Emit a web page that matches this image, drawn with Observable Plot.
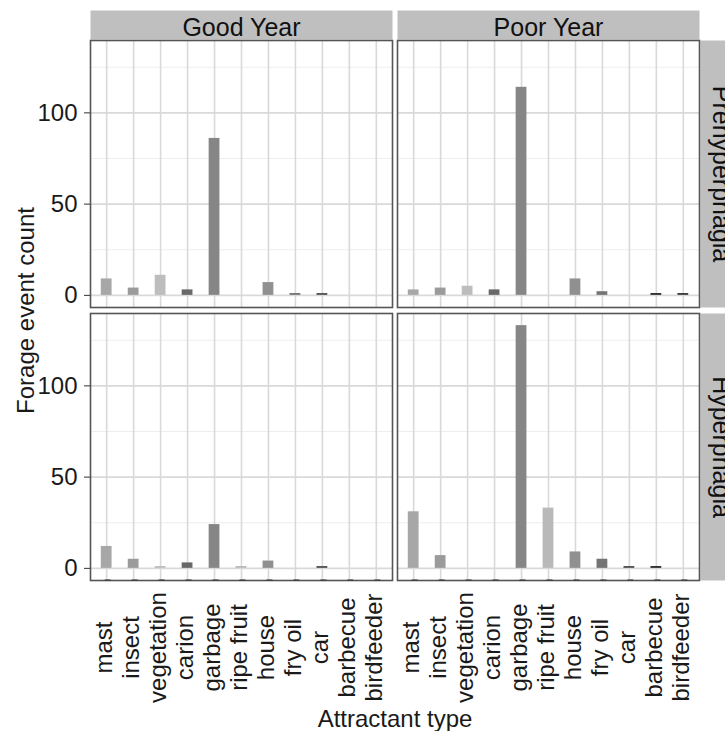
<!DOCTYPE html>
<html>
<head>
<meta charset="utf-8">
<script src="https://cdn.jsdelivr.net/npm/d3@7"></script>
<script src="https://cdn.jsdelivr.net/npm/@observablehq/plot@0.6"></script>
<style>
  html, body { margin: 0; padding: 0; background: #ffffff; }
  #chart svg { display: block; }
</style>
</head>
<body>
<div id="chart"></div>
<script>
// ---- data ----
const categories = ["mast", "insect", "vegetation", "carion", "garbage", "ripe fruit", "house", "fry oil", "car", "barbecue", "birdfeeder"];
const years = ["Good Year", "Poor Year"];
const phases = ["Prehyperphagia", "Hyperphagia"];
const goodYearPre   = [9, 4, 11, 3, 86, 0, 7, 1, 1, 0, 0];
const poorYearPre   = [3, 4, 5, 3, 114, 0, 9, 2, 0, 1, 1];
const goodYearHyper = [12, 5, 1, 3, 24, 1, 4, 0, 1, 0, 0];
const poorYearHyper = [31, 7, 0, 0, 133, 33, 9, 5, 1, 1, 0];
const yTicks = [0, 50, 100];
const yMinorTicks = [25, 75, 125];

// ---- styles ----
const barGrays = ["#a7a7a7", "#9b9b9b", "#bdbdbd", "#686868", "#868686", "#b9b9b9", "#909090", "#747474", "#505050", "#2a2a2a", "#3a3a3a"];

const series = [
  {year: years[0], phase: phases[0], values: goodYearPre},
  {year: years[1], phase: phases[0], values: poorYearPre},
  {year: years[0], phase: phases[1], values: goodYearHyper},
  {year: years[1], phase: phases[1], values: poorYearHyper}
];
const data = series.flatMap(s => s.values.map((v, i) => ({year: s.year, phase: s.phase, type: categories[i], count: v})))
  .filter(d => d.count > 0);

const panelH = 267, panelW = 302;

const plot = Plot.plot({
  width: 725,
  height: 731,
  marginLeft: 90,
  marginRight: 26,
  marginTop: 40,
  marginBottom: 151,
  style: {fontFamily: "'Liberation Sans', Arial, Helvetica, sans-serif", fontSize: "24px", background: "#ffffff", color: "#1a1a1a"},
  fx: {domain: years, paddingInner: 5 / 307, paddingOuter: 0, round: false},
  fy: {domain: phases, paddingInner: 6 / 273, paddingOuter: 0, round: false},
  x: {type: "band", domain: categories, paddingInner: 0.6, paddingOuter: 0.4, round: false},
  y: {domain: [-6.65, 139.65], nice: false},
  color: {domain: categories, range: barGrays},
  marks: [
    // strips
    Plot.frame({fill: "#bfbfbf", stroke: "none", insetTop: -30, insetBottom: panelH + 1, facetAnchor: "top"}),
    Plot.frame({fill: "#bfbfbf", stroke: "none", insetLeft: panelW + 1, insetRight: -26, facetAnchor: "right"}),
    // grid
    Plot.ruleY(yMinorTicks, {stroke: "#eeeeee", strokeWidth: 1}),
    Plot.ruleY(yTicks, {stroke: "#d9d9d9", strokeWidth: 1.6}),
    Plot.gridX({stroke: "#d9d9d9", strokeOpacity: 1, strokeWidth: 1.6}),
    // bars
    Plot.barY(data, {x: "type", y: "count", fill: "type", fx: "year", fy: "phase"}),
    // panel border
    Plot.frame({stroke: "#555555", strokeWidth: 1.6}),
    // axes
    Plot.axisY({anchor: "left", facetAnchor: "left", ticks: yTicks, tickSize: 6, tickPadding: 7, fontSize: 24,
      stroke: "#333333", fill: "#1a1a1a",
      label: "Forage event count", labelAnchor: "center", labelOffset: 74, labelArrow: "none"}),
    Plot.axisX({anchor: "bottom", facetAnchor: "bottom", tickSize: 6, tickPadding: 61, rotate: -90, dx: -2,
      textAnchor: "middle", lineAnchor: "middle", fontSize: 24, stroke: "#333333", fill: "#1a1a1a",
      label: "Attractant type", labelAnchor: "center", labelOffset: 146, labelArrow: "none"}),
    Plot.axisFx({anchor: "top", tickSize: 0, tickPadding: 13, lineAnchor: "middle", fontSize: 25, fill: "#111111", label: null}),
    Plot.axisFy({anchor: "right", tickSize: 0, tickPadding: 21, rotate: 90, textAnchor: "middle", lineAnchor: "middle",
      fontSize: 25, fill: "#111111", label: null})
  ]
});
document.getElementById("chart").appendChild(plot);
</script>
</body>
</html>
